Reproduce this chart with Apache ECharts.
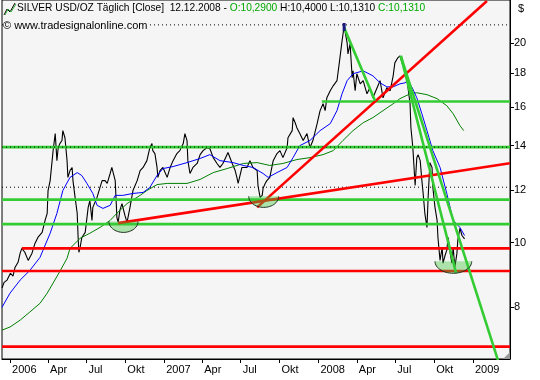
<!DOCTYPE html>
<html><head><meta charset="utf-8">
<script src="https://cdn.jsdelivr.net/npm/echarts@6/dist/echarts.min.js"></script>
<style>html,body{margin:0;padding:0;background:#fff}#c{width:540px;height:380px}</style>
</head><body><div id="c"></div>
<script>
// ---- data ----
const priceDates = ['2005-12-13','2005-12-18','2005-12-25','2006-01-02','2006-01-08','2006-01-13','2006-01-20','2006-01-25','2006-01-29','2006-02-05','2006-02-13','2006-02-22','2006-03-01','2006-03-08','2006-03-18','2006-03-25','2006-03-30','2006-04-01','2006-04-06','2006-04-13','2006-04-18','2006-04-22','2006-04-25','2006-04-29','2006-05-04','2006-05-06','2006-05-11','2006-05-16','2006-05-18','2006-05-23','2006-05-28','2006-05-30','2006-06-04','2006-06-09','2006-06-11','2006-06-13','2006-06-16','2006-06-20','2006-06-28','2006-07-05','2006-07-09','2006-07-14','2006-07-16','2006-07-26','2006-08-02','2006-08-07','2006-08-14','2006-08-19','2006-08-21','2006-08-26','2006-08-30','2006-09-02','2006-09-07','2006-09-11','2006-09-14','2006-09-18','2006-09-23','2006-09-30','2006-10-05','2006-10-12','2006-10-19','2006-10-29','2006-11-05','2006-11-12','2006-11-21','2006-11-28','2006-12-03','2006-12-05','2006-12-10','2006-12-15','2006-12-17','2006-12-22','2006-12-29','2007-01-08','2007-01-15','2007-01-22','2007-01-31','2007-02-07','2007-02-15','2007-02-19','2007-02-24','2007-02-26','2007-03-03','2007-03-10','2007-03-20','2007-03-27','2007-04-03','2007-04-12','2007-04-19','2007-04-27','2007-05-06','2007-05-13','2007-05-20','2007-06-01','2007-06-11','2007-06-18','2007-06-22','2007-06-25','2007-07-04','2007-07-16','2007-07-23','2007-07-30','2007-08-09','2007-08-11','2007-08-16','2007-08-21','2007-08-23','2007-08-28','2007-09-01','2007-09-08','2007-09-16','2007-09-25','2007-10-02','2007-10-09','2007-10-19','2007-10-21','2007-10-31','2007-11-02','2007-11-07','2007-11-11','2007-11-18','2007-11-26','2007-12-05','2007-12-12','2007-12-19','2007-12-29','2008-01-05','2008-01-12','2008-01-17','2008-01-21','2008-01-29','2008-02-05','2008-02-14','2008-02-21','2008-02-26','2008-03-02','2008-03-06','2008-03-09','2008-03-11','2008-03-16','2008-03-21','2008-03-23','2008-03-28','2008-04-01','2008-04-09','2008-04-16','2008-04-25','2008-05-02','2008-05-09','2008-05-19','2008-05-26','2008-06-02','2008-06-11','2008-06-19','2008-06-26','2008-06-30','2008-07-07','2008-07-12','2008-07-17','2008-07-24','2008-07-29','2008-08-05','2008-08-07','2008-08-10','2008-08-12','2008-08-17','2008-08-21','2008-08-24','2008-08-29','2008-09-02','2008-09-05','2008-09-09','2008-09-14','2008-09-17','2008-09-21','2008-09-26','2008-09-28','2008-10-03','2008-10-08','2008-10-10','2008-10-15','2008-10-20','2008-10-22','2008-10-27','2008-10-31','2008-11-03','2008-11-08','2008-11-12','2008-11-15','2008-11-19','2008-11-24','2008-11-26','2008-12-01','2008-12-06','2008-12-12'];
const priceValues = [8.54,8.71,8.78,8.99,8.90,9.18,9.34,9.64,9.80,9.67,9.40,9.64,9.97,10.18,10.36,10.80,11.07,11.98,12.40,13.76,14.60,13.29,13.90,14.10,14.25,14.75,14.39,13.29,12.54,12.84,12.98,12.40,11.70,11.07,10.25,9.67,9.84,10.18,10.36,11.30,11.57,10.80,11.30,11.70,12.11,12.40,12.40,12.28,12.40,12.71,12.98,13.07,12.40,10.91,10.73,11.18,11.45,10.99,10.73,11.30,11.98,12.40,12.84,12.98,13.29,13.90,14.10,13.76,13.62,12.98,12.54,12.84,12.98,12.54,12.98,13.29,13.62,13.76,14.10,14.60,14.25,13.29,12.71,12.98,13.16,13.57,13.76,13.90,13.86,13.43,13.16,12.98,13.16,13.67,13.16,12.84,12.54,12.28,12.98,12.98,13.29,12.98,12.84,12.19,11.70,11.78,12.07,12.28,12.40,12.54,13.29,13.62,13.76,13.43,13.90,14.39,14.75,15.43,15.16,14.90,14.60,14.25,14.60,13.90,14.25,15.11,15.81,16.19,15.81,16.53,16.94,17.23,17.54,18.99,20.14,21.21,20.49,20.00,19.25,19.93,17.72,18.15,16.94,17.97,17.35,17.54,16.76,17.12,16.53,17.12,17.54,16.53,17.12,16.94,17.84,18.66,18.99,19.12,18.66,18.15,17.54,16.19,14.90,14.25,13.76,12.19,13.43,13.57,13.29,12.40,11.86,11.07,10.54,11.78,13.20,12.98,12.11,11.30,10.80,10.18,9.40,9.84,9.31,9.57,9.74,10.18,9.64,9.31,9.84,9.18,9.64,10.08,10.51,10.25,10.13];

const blueDates = ['2005-12-13','2006-01-01','2006-01-25','2006-02-17','2006-03-13','2006-04-06','2006-04-22','2006-05-06','2006-05-23','2006-06-09','2006-06-20','2006-07-02','2006-07-16','2006-07-26','2006-08-09','2006-08-26','2006-09-07','2006-09-25','2006-10-19','2006-11-12','2006-11-28','2006-12-15','2006-12-29','2007-01-22','2007-02-24','2007-03-27','2007-04-19','2007-05-13','2007-06-13','2007-07-07','2007-07-30','2007-08-23','2007-09-04','2007-09-25','2007-10-19','2007-11-02','2007-11-18','2007-12-12','2008-01-05','2008-01-29','2008-02-14','2008-02-26','2008-03-09','2008-03-23','2008-04-16','2008-05-09','2008-05-26','2008-06-11','2008-06-26','2008-07-12','2008-07-24','2008-07-31','2008-08-10','2008-08-21','2008-09-02','2008-09-14','2008-09-28','2008-10-15','2008-10-31','2008-11-15','2008-12-01','2008-12-12'];
const blueValues = [7.99,8.39,8.78,9.08,9.50,10.33,11.07,11.98,12.54,12.75,12.62,12.28,11.86,11.38,11.26,11.38,11.78,11.78,11.86,11.90,12.11,12.62,12.93,13.02,13.20,13.39,13.57,13.29,13.20,13.07,12.98,12.71,12.54,12.75,12.98,13.43,14.00,14.25,14.75,15.11,15.81,16.76,17.54,17.97,18.15,17.84,17.41,17.17,17.17,17.35,17.41,17.54,17.12,16.53,15.64,14.75,13.76,12.98,11.86,10.80,10.54,10.25];

const greenMaDates = ['2005-12-13','2006-01-01','2006-01-25','2006-02-17','2006-03-13','2006-03-30','2006-04-13','2006-04-29','2006-05-16','2006-05-23','2006-06-16','2006-07-09','2006-08-02','2006-08-26','2006-09-11','2006-10-05','2006-11-05','2006-11-21','2006-12-15','2007-01-08','2007-02-24','2007-03-27','2007-04-27','2007-05-30','2007-07-07','2007-08-09','2007-09-08','2007-10-09','2007-11-11','2007-12-12','2008-01-12','2008-02-05','2008-02-28','2008-03-23','2008-04-16','2008-05-09','2008-06-02','2008-06-26','2008-07-12','2008-08-05','2008-08-21','2008-09-14','2008-10-08','2008-10-31','2008-11-15','2008-12-01','2008-12-10'];
const greenMaValues = [7.38,7.46,7.64,7.86,8.10,8.39,8.69,9.05,9.47,9.80,10.15,10.33,10.54,10.80,11.07,11.45,11.78,11.98,12.23,12.28,12.28,12.45,12.75,12.93,13.16,13.20,13.07,13.16,13.34,13.43,13.57,13.76,14.25,14.75,15.16,15.43,15.81,16.19,16.48,16.76,16.82,16.71,16.48,16.08,15.64,15.01,14.75];

// horizontal levels (start date: null = from the left edge)
const greenLevels = [16.32, 13.93, 11.61, 10.66];
const greenLevelStarts = ['2008-01-09', null, null, null];
const redLevels = [9.80, 9.06, 6.97];
const redLevelStarts = ['2006-01-29', null, null];
const dottedLevels = [21.29, 13.93, 12.12];

// trend lines: [start, end]
const redTrend1Dates = ['2006-09-14', '2009-03-29'];
const redTrend1Values = [10.70, 13.17];
const redTrend2Dates = ['2007-08-09', '2009-02-03'];
const redTrend2Values = [11.30, 23.13];
const greenTrend1Dates = ['2008-03-02', '2008-05-14'];
const greenTrend1Values = [21.07, 16.36];
const greenTrend2Dates = ['2008-07-14', '2009-03-01'];
const greenTrend2Values = [19.12, 6.65];
const greenTrend3Dates = ['2008-07-14', '2008-11-22'];
const greenTrend3Values = [19.12, 8.99];

// highlighted high bar
const peakBarDates = ['2008-03-02', '2008-03-02'];
const peakBarValues = [21.43, 20.85];

// half-ellipse markers: left date, right date, top value, bottom value
const bowlLeft = ['2006-08-23', '2007-07-20', '2008-10-03'];
const bowlRight = ['2006-10-31', '2007-09-29', '2008-12-29'];
const bowlTop = [10.76, 11.74, 9.37];
const bowlBottom = [10.36, 11.30, 8.99];

// axes
const xTickDates = ['2006-01-01','2006-04-01','2006-07-01','2006-10-01','2007-01-01','2007-04-01','2007-07-01','2007-10-01','2008-01-01','2008-04-01','2008-07-01','2008-10-01','2009-01-01'];
const xTickLabels = ['2006','Apr','Jul','Okt','2007','Apr','Jul','Okt','2008','Apr','Jul','Okt','2009'];
const yTickValues = [8, 10, 12, 14, 16, 18, 20];
const xStart = '2005-12-13', xEnd = '2009-03-29';
const yMinValue = 6.676, yMaxValue = 23.21;

// header
const headTitle = 'SILVER USD/OZ Täglich [Close]  12.12.2008 - ';
const headOpen = 'O:10,2900';
const headMid = ' H:10,4000 L:10,1310 ';
const headClose = 'C:10,1310';
const headCopy = '© www.tradesignalonline.com';

// ---- build ----
const T = s => Date.parse(s);
const L = v => Math.log(v);
const xMin = T(xStart), xMax = T(xEnd) + 14 * 3600e3;
const pairs = (ds, vs) => ds.map((d, i) => [d === null ? xMin : T(d), L(vs[i])]);
const FONT = '"Liberation Sans", Arial, sans-serif';
const labelMap = {};
xTickDates.forEach((d, i) => { labelMap[T(d)] = xTickLabels[i]; });

const series = [];
function line(data, color, width, z, type) {
  series.push({ type: 'line', data, symbol: 'none', silent: true, z,
    lineStyle: { color, width, type: type || 'solid', cap: 'butt' }, animation: false });
}
line(pairs(priceDates, priceValues), '#000', 1.1, 2);
line(pairs(greenMaDates, greenMaValues), '#008000', 1, 3);
line(pairs(blueDates, blueValues), '#0000ff', 1, 3);
greenLevels.forEach((v, i) => line([[greenLevelStarts[i] ? T(greenLevelStarts[i]) : xMin, L(v)], [xMax, L(v)]], '#33cc33', 2.6, 4));
redLevels.forEach((v, i) => line([[redLevelStarts[i] ? T(redLevelStarts[i]) : xMin, L(v)], [xMax, L(v)]], '#ff0000', 2.6, 4));
dottedLevels.forEach(v => line([[xMin, L(v)], [xMax, L(v)]], '#000', 1, 5, [1, 3]));
line(pairs(redTrend1Dates, redTrend1Values), '#ff0000', 2.6, 5);
line(pairs(redTrend2Dates, redTrend2Values), '#ff0000', 2.6, 5);
line(pairs(greenTrend1Dates, greenTrend1Values), '#33cc33', 2.6, 5);
line(pairs(greenTrend2Dates, greenTrend2Values), '#33cc33', 2.6, 5);
line(pairs(greenTrend3Dates, greenTrend3Values), '#33cc33', 2.6, 5);
line(pairs(peakBarDates, peakBarValues), '#1a1a80', 3, 6);

series.push({
  type: 'custom', z: 7, silent: true, animation: false,
  data: bowlLeft.map((d, i) => [T(d), T(bowlRight[i]), L(bowlTop[i]), L(bowlBottom[i])]),
  encode: { x: [0, 1], y: [2, 3] },
  renderItem: (params, api) => {
    const p1 = api.coord([api.value(0), api.value(2)]);
    const p2 = api.coord([api.value(1), api.value(3)]);
    const cx = (p1[0] + p2[0]) / 2, rx = (p2[0] - p1[0]) / 2, top = p1[1], ry = p2[1] - p1[1];
    const pts = [];
    for (let i = 0; i <= 30; i++) {
      const a = Math.PI * i / 30;
      pts.push([cx - rx * Math.cos(a), top + ry * Math.sin(a)]);
    }
    return { type: 'group', children: [
      { type: 'polygon', shape: { points: pts }, style: { fill: 'rgba(60,200,60,0.4)' } },
      { type: 'polyline', shape: { points: pts }, style: { stroke: '#203020', lineWidth: 1, fill: null } }
    ] };
  }
});

const chart = echarts.init(document.getElementById('c'), null, { renderer: 'canvas' });
chart.setOption({
  animation: false,
  backgroundColor: '#ffffff',
  grid: { left: 2, right: 30, top: -1, bottom: 21, show: true, backgroundColor: '#f5f5f5', borderColor: '#000', borderWidth: 1 },
  xAxis: {
    type: 'value', min: xMin, max: xMax,
    axisLine: { show: true, onZero: false, lineStyle: { color: '#000', width: 1 } },
    axisTick: { show: true, length: 4, customValues: xTickDates.map(T), lineStyle: { color: '#000' } },
    axisLabel: { customValues: xTickDates.map(T), formatter: v => labelMap[v] || '', align: 'left', margin: 5,
      padding: [0, 0, 0, 2], color: '#000', fontSize: 11, fontFamily: FONT },
    splitLine: { show: false }
  },
  yAxis: {
    type: 'value', position: 'right', min: L(yMinValue), max: L(yMaxValue),
    axisLine: { show: true, onZero: false, lineStyle: { color: '#000', width: 1 } },
    axisTick: { show: true, length: 4, customValues: yTickValues.map(L), lineStyle: { color: '#000' } },
    axisLabel: { customValues: yTickValues.map(L), formatter: v => String(Math.round(Math.exp(v))),
      margin: 4, color: '#000', fontSize: 11, fontFamily: FONT },
    splitLine: { show: false }
  },
  graphic: [
    { type: 'polyline', z: 100, shape: { points: [[4, 15], [7, 9], [10, 12], [15, 3]] }, style: { stroke: '#000', lineWidth: 1, fill: null } },
    { type: 'polyline', z: 100, shape: { points: [[5, 15], [8, 9], [11, 12], [16, 4]] }, style: { stroke: '#33aa33', lineWidth: 1, fill: null } },
    { type: 'text', z: 100, x: 17, y: 3, style: {
      text: '{a|' + headTitle + '}{g|' + headOpen + '}{a|' + headMid + '}{g|' + headClose + '}',
      rich: { a: { fill: '#000', fontSize: 10.2, fontFamily: FONT }, g: { fill: '#00a800', fontSize: 10.2, fontFamily: FONT } } } },
    { type: 'text', z: 100, x: 3, y: 20, style: { text: headCopy, fill: '#000', fontSize: 11, fontFamily: FONT,
      backgroundColor: '#f5f5f5', padding: [0, 1, 0, 0] } },
    { type: 'text', z: 100, x: 518, y: 3, style: { text: '$', fill: '#000', fontSize: 11, fontFamily: FONT } },
    { type: 'polygon', z: 100, shape: { points: [[503, 359], [510, 352], [510, 359]] }, style: { fill: '#999' } }
  ],
  series
});
</script>
</body></html>
